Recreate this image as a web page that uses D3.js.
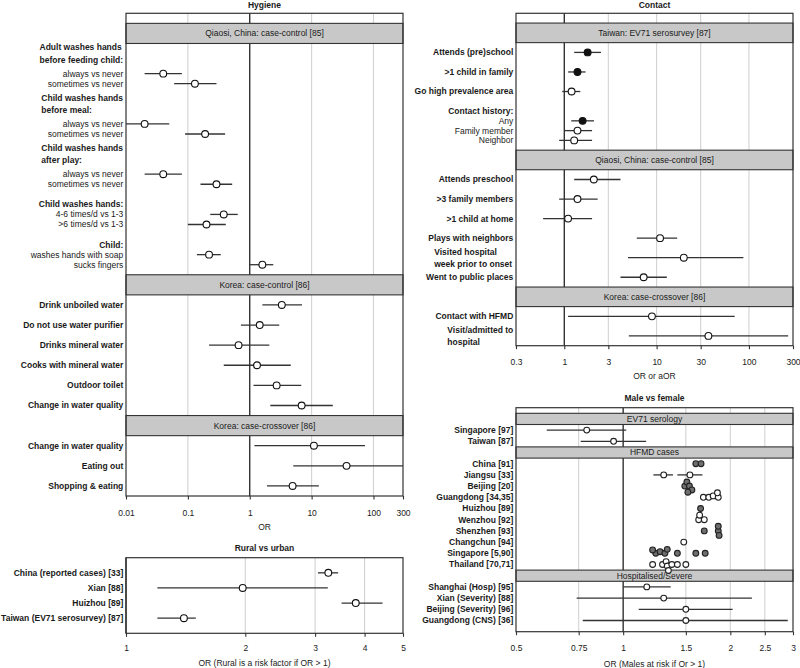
<!DOCTYPE html>
<html><head><meta charset="utf-8">
<script src="https://cdn.jsdelivr.net/npm/d3@7"></script>
<style>
body{margin:0;background:#fff;}
svg{display:block;font-family:"Liberation Sans",Arial,Helvetica,sans-serif;}
</style></head><body>
<svg id="c" width="800" height="668"></svg>
<script>
// ---------------- DATA ----------------
// Hygiene
const hygSections = ["Qiaosi, China: case-control [85]", "Korea: case-control [86]", "Korea: case-crossover [86]"];
const hygLabels = [
  "Adult washes hands|before feeding child:", "always vs never", "sometimes vs never",
  "Child washes hands|before meal:", "always vs never", "sometimes vs never",
  "Child washes hands|after play:", "always vs never", "sometimes vs never",
  "Child washes hands:", "4-6 times/d vs 1-3", ">6 times/d vs 1-3",
  "Child:", "washes hands with soap", "sucks fingers",
  "Drink unboiled water", "Do not use water purifier", "Drinks mineral water",
  "Cooks with mineral water", "Outdoor toilet", "Change in water quality",
  "Change in water quality", "Eating out", "Shopping & eating"
];
const hygKind = ["h","s","s","h","s","s","h","s","s","h","s","s","h","s","s","i","i","i","i","i","i","i","i","i"];
const hygSec  = [0,0,0,0,0,0,0,0,0,0,0,0,0,0,0,1,1,1,1,1,1,2,2,2];
const hygOR = [null,0.04,0.13,null,0.02,0.19,null,0.04,0.29,null,0.38,0.20,null,0.22,1.6,3.3,1.45,0.66,1.31,2.72,6.9,10.9,36.7,4.93];
const hygLo = [null,0.02,0.06,null,0.01,0.09,null,0.02,0.16,null,0.23,0.10,null,0.14,1.0,1.6,0.72,0.22,0.38,1.15,2.15,1.19,5.05,1.9];
const hygHi = [null,0.08,0.29,null,0.05,0.40,null,0.08,0.52,null,0.64,0.41,null,0.34,2.4,7.0,3.0,2.07,4.6,6.8,22,73,300,13.1];
const hygTicks = [0.01, 0.1, 1, 10, 100, 300];
const hygTickLabels = ["0.01", "0.1", "1", "10", "100", "300"];
const hygGrid = [0.1, 10, 100];

// Contact
const conSections = ["Taiwan: EV71 serosurvey [87]", "Qiaosi, China: case-control [85]", "Korea: case-crossover [86]"];
const conLabels = [
  "Attends (pre)school", ">1 child in family", "Go high prevalence area", "Contact history:",
  "Any", "Family member", "Neighbor",
  "Attends preschool", ">3 family members", ">1 child at home", "Plays with neighbors",
  "Visited hospital|week prior to onset", "Went to public places",
  "Contact with HFMD", "Visit/admitted to|hospital"
];
const conKind = ["i","i","i","h","s","s","s","i","i","i","i","i","i","i","i"];
const conSec  = [0,0,0,0,0,0,0,1,1,1,1,1,1,2,2];
const conFilled = [true,true,false,false,true,false,false,false,false,false,false,false,false,false,false];
const conOR = [1.79,1.39,1.2,null,1.58,1.39,1.28,2.09,1.39,1.1,10.9,19.7,7.24,8.9,36.4];
const conLo = [1.28,1.1,0.95,null,1.19,1.0,0.88,1.28,0.88,0.59,6.1,4.9,4.06,1.1,5.0];
const conHi = [2.5,1.7,1.49,null,2.1,2.0,2.0,4.06,2.3,2.0,16.7,87,12.9,70,266];
const conTicks = [0.3, 1, 3, 10, 30, 100, 300];
const conTickLabels = ["0.3", "1", "3", "10", "30", "100", "300"];
const conGrid = [3, 10, 30, 100];

// Rural vs urban
const rurLabels = ["China (reported cases) [33]", "Xian [88]", "Huizhou [89]", "Taiwan (EV71 serosurvey) [87]"];
const rurOR = [3.24, 1.97, 3.8, 1.40];
const rurLo = [3.05, 1.2, 3.5, 1.2];
const rurHi = [3.43, 3.23, 4.44, 1.5];
const rurTicks = [1, 2, 3, 4, 5];
const rurTickLabels = ["1", "2", "3", "4", "5"];
const rurGrid = [2, 3, 4];

// Male vs female
const malSections = ["EV71 serology", "HFMD cases", "Hospitalised/Severe"];
const malLabels = ["Singapore [97]", "Taiwan [87]", "China [91]", "Jiangsu [33]", "Beijing [20]",
  "Guangdong [34,35]", "Huizhou [89]", "Wenzhou [92]", "Shenzhen [93]", "Changchun [94]",
  "Singapore [5,90]", "Thailand [70,71]", "Shanghai (Hosp) [95]", "Xian (Severity) [88]",
  "Beijing (Severity) [96]", "Guangdong (CNS) [36]"];
const malSec = [0,0,1,1,1,1,1,1,1,1,1,1,2,2,2,2];
const malFilled = [false,false,true,false,true,false,true,false,true,false,true,false,false,false,false,false];
const malOR = [[0.79],[0.94],[1.60,1.655],[1.30,1.54],[1.49,1.51,1.535,1.56,1.52],
  [1.68,1.74,1.79,1.85,1.84],[1.65],[1.63,1.69,1.64],[1.85,1.85,1.86,1.69],[1.48],
  [1.235,1.21,1.27,1.31,1.33,1.42,1.60,1.70],[1.21,1.29,1.32,1.33,1.34,1.37,1.42,1.50],
  [1.165],[1.30],[1.50],[1.50]];
const malLo = [[0.61],[0.76],null,[1.216,1.42],null,null,null,null,null,null,null,null,[1.0],[0.74],[1.106],[0.77]];
const malHi = [[1.02],[1.16],null,[1.38,1.67],null,null,null,null,null,null,null,null,[1.36],[2.30],[2.03],[2.9]];
const malTicks = [0.5, 0.75, 1, 1.5, 2, 2.5, 3];
const malTickLabels = ["0.5", "0.75", "1", "1.5", "2", "2.5", "3"];
const malGrid = [0.75, 1.5, 2, 2.5];

// ---------------- DRAWING ----------------
const svg = d3.select("#c");
const FS = 8.5;
const TXT = "#1a1a1a", GRIDC = "#d2d2d2", FRAMEC = "#333", STRIPC = "#c8c8c8", LINEC = "#333";
const lGrid = svg.append("g"), lStrip = svg.append("g"), lMarks = svg.append("g"), lFrame = svg.append("g"), lText = svg.append("g");

function panel(o) {
  const {x, y0, y1, grid, ticks, tickLabels, title, titleY, xlabel, xlabelY, tickPad} = o;
  const [x0, x1] = x.range();
  lGrid.selectAll(null).data(grid).join("line")
    .attr("x1", d => x(d)).attr("x2", d => x(d)).attr("y1", y0).attr("y2", y1)
    .attr("stroke", GRIDC).attr("stroke-width", 1.1);
  lGrid.append("line").attr("x1", x(1)).attr("x2", x(1)).attr("y1", y0).attr("y2", y1)
    .attr("stroke", "#222").attr("stroke-width", 1.3);
  lFrame.append("rect").attr("x", x0).attr("y", y0).attr("width", x1 - x0).attr("height", y1 - y0)
    .attr("fill", "none").attr("stroke", FRAMEC).attr("stroke-width", 1.2);
  const ax = d3.axisBottom(x).tickValues(ticks).tickFormat((d, i) => tickLabels[i]).tickSize(3.5).tickPadding(tickPad);
  const ag = lFrame.append("g").attr("transform", `translate(0,${y1})`).call(ax);
  ag.select(".domain").remove();
  ag.selectAll(".tick line").attr("stroke", FRAMEC).attr("stroke-width", 1.1);
  ag.selectAll(".tick text").attr("font-size", FS).attr("fill", TXT).attr("font-family", "Liberation Sans, Arial, sans-serif");
  lText.append("text").attr("x", (x0 + x1) / 2).attr("y", titleY).attr("text-anchor", "middle")
    .attr("font-size", FS).attr("font-weight", "bold").attr("fill", TXT).text(title);
  lText.append("text").attr("x", (x0 + x1) / 2).attr("y", xlabelY).attr("text-anchor", "middle")
    .attr("font-size", FS).attr("fill", TXT).text(xlabel);
}

function strip(x, ya, yb, label) {
  const [x0, x1] = x.range();
  lStrip.append("rect").attr("x", x0).attr("y", ya).attr("width", x1 - x0).attr("height", yb - ya)
    .attr("fill", STRIPC).attr("stroke", FRAMEC).attr("stroke-width", 1.1);
  lStrip.append("text").attr("x", (x0 + x1) / 2).attr("y", (ya + yb) / 2).attr("dy", "0.35em")
    .attr("text-anchor", "middle").attr("font-size", FS).attr("fill", TXT).text(label);
}

function label(xRight, y, text, bold) {
  const lines = text.split("|");
  const t = lText.append("text").attr("font-size", FS).attr("font-weight", bold ? "bold" : "normal").attr("fill", TXT);
  if (lines.length === 1) {
    t.attr("x", xRight).attr("y", y).attr("dy", "0.35em").attr("text-anchor", "end").text(lines[0]);
    return;
  }
  const lh = 12.2;
  lines.forEach((l, i) => t.append("tspan").attr("x", 0).attr("y", y + (i - (lines.length - 1) / 2) * lh).attr("dy", "0.35em").text(l));
  const w = t.node().getBBox().width;
  t.attr("transform", `translate(${xRight - w},0)`);
}

function ci(x, y, lo, hi) {
  lMarks.append("line").attr("x1", x(lo)).attr("x2", x(hi)).attr("y1", y).attr("y2", y)
    .attr("stroke", LINEC).attr("stroke-width", 1.3);
}
function pt(cx, cy, r, fill, stroke) {
  lMarks.append("circle").attr("cx", cx).attr("cy", cy).attr("r", r)
    .attr("fill", fill).attr("stroke", stroke || "#111").attr("stroke-width", 1.1);
}

function unitLayout(kinds, secs, labels) {
  let pos = 1, cur = -1, prevK = null, prevLines = 1;
  const rowPos = [], strips = [];
  kinds.forEach((k, i) => {
    if (secs[i] !== cur) {
      if (cur !== -1) pos += 1;
      strips.push({sec: secs[i], a: pos, b: pos + 2});
      pos += 3; cur = secs[i];
    } else if (k === "s") {
      pos += (prevK === "h" ? prevLines : 1);
    } else pos += 2;
    rowPos.push(pos); prevK = k; prevLines = labels[i].split("|").length;
  });
  return {rowPos, strips, total: pos + 1};
}

// ---- Hygiene ----
{
  const x = d3.scaleLog().domain([0.01, 300]).range([126, 403]);
  const L = unitLayout(hygKind, hygSec, hygLabels);
  const y = d3.scaleLinear().domain([0, L.total]).range([13.3, 496]);
  panel({x, y0: 13.3, y1: 496, grid: hygGrid, ticks: hygTicks, tickLabels: hygTickLabels,
    title: "Hygiene", titleY: 7.5, xlabel: "OR", xlabelY: 529.8, tickPad: 10});
  L.strips.forEach(s => strip(x, y(s.a), y(s.b), hygSections[s.sec]));
  hygLabels.forEach((lab, i) => {
    const yy = y(L.rowPos[i]);
    label(123.3, yy, lab, hygKind[i] !== "s");
    if (hygOR[i] != null) { ci(x, yy, hygLo[i], hygHi[i]); pt(x(hygOR[i]), yy, 3.4, "#fff"); }
  });
}

// ---- Contact ----
{
  const x = d3.scaleLog().domain([0.3, 300]).range([516, 793]);
  const L = unitLayout(conKind, conSec, conLabels);
  const y = d3.scaleLinear().domain([0, L.total]).range([13.3, 345.7]);
  panel({x, y0: 13.3, y1: 345.7, grid: conGrid, ticks: conTicks, tickLabels: conTickLabels,
    title: "Contact", titleY: 7.5, xlabel: "OR or aOR", xlabelY: 379.2, tickPad: 10});
  L.strips.forEach(s => strip(x, y(s.a), y(s.b), conSections[s.sec]));
  conLabels.forEach((lab, i) => {
    const yy = y(L.rowPos[i]);
    label(513.3, yy, lab, conKind[i] !== "s");
    if (conOR[i] != null) { ci(x, yy, conLo[i], conHi[i]); pt(x(conOR[i]), yy, 3.4, conFilled[i] ? "#111" : "#fff"); }
  });
}

// ---- Rural vs urban ----
{
  const x = d3.scaleLog().domain([1, 5]).range([126, 403]);
  const y = d3.scalePoint().domain(rurLabels).range([557.7, 633.3]).padding(1);
  panel({x, y0: 557.7, y1: 633.3, grid: rurGrid, ticks: rurTicks, tickLabels: rurTickLabels,
    title: "Rural vs urban", titleY: 550.8, xlabel: "OR (Rural is a risk factor if OR > 1)", xlabelY: 666.4, tickPad: 8.5});
  rurLabels.forEach((lab, i) => {
    const yy = y(lab);
    label(123.3, yy, lab, true);
    ci(x, yy, rurLo[i], rurHi[i]); pt(x(rurOR[i]), yy, 3.4, "#fff");
  });
}

// ---- Male vs female ----
{
  const x = d3.scaleLog().domain([0.5, 3]).range([516, 793]);
  // layout in units: top pad 0.5, strip 1, row 1 each, bottom pad 0.5
  let pos = 0.5, cur = -1; const rowPos = [], strips = [];
  malLabels.forEach((lab, i) => {
    if (malSec[i] !== cur) { strips.push({sec: malSec[i], a: pos, b: pos + 1}); pos += 1; cur = malSec[i]; }
    rowPos.push(pos + 0.5); pos += 1;
  });
  const y = d3.scaleLinear().domain([0, pos + 0.5]).range([407.7, 631.7]);
  panel({x, y0: 407.7, y1: 631.7, grid: malGrid, ticks: malTicks, tickLabels: malTickLabels,
    title: "Male vs female", titleY: 400.5, xlabel: "OR (Males at risk if Or > 1)", xlabelY: 667.2, tickPad: 9.8});
  strips.forEach(s => strip(x, y(s.a), y(s.b), malSections[s.sec]));
  const D = 4.6;
  function swarm(xs) {
    const placed = [];
    return xs.map(px => {
      const cands = [0];
      placed.forEach(p => { const dx = Math.abs(p.x - px); if (dx < D) { const h = Math.sqrt(D * D - dx * dx); cands.push(p.y + h, p.y - h); } });
      cands.sort((a, b) => Math.abs(a) - Math.abs(b) || a - b);
      const c = cands.find(c => placed.every(p => (p.x - px) ** 2 + (p.y - c) ** 2 >= D * D - 1e-6));
      placed.push({x: px, y: c});
      return c;
    });
  }
  malLabels.forEach((lab, i) => {
    const yy = y(rowPos[i]);
    label(513.3, yy, lab, true);
    const xs = malOR[i].map(v => x(v));
    const dys = swarm(xs);
    malOR[i].forEach((v, j) => {
      if (malLo[i] && malLo[i][j] != null) ci(x, yy + dys[j], malLo[i][j], malHi[i][j]);
    });
    malOR[i].forEach((v, j) => {
      pt(xs[j], yy + dys[j], 2.9, malFilled[i] ? "#6e6e6e" : "#fff", "#222");
    });
  });
}
</script>
</body></html>
